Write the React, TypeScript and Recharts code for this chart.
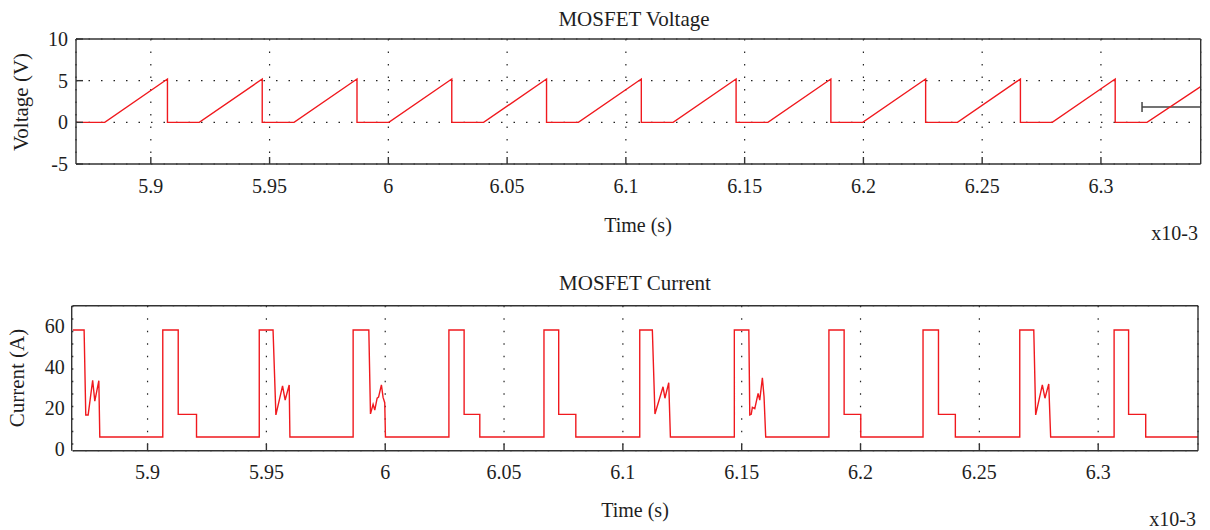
import React from 'react';
import { LineChart, Line, XAxis, YAxis, CartesianGrid, ReferenceLine } from 'recharts';

// ---- shared time axis (units of 1e-3 s) ----
const xDomain = [5.8685, 6.342];
const xTicks = [5.9, 5.95, 6, 6.05, 6.1, 6.15, 6.2, 6.25, 6.3];

// ---- MOSFET Voltage ----
const voltageTicks = [-5, 0, 5, 10];
const voltageTime = [
  5.8685, 5.8806,
  5.907, 5.907, 5.9204,
  5.9469, 5.9469, 5.9603,
  5.9868, 5.9868, 6.0002,
  6.0267, 6.0267, 6.0401,
  6.0666, 6.0666, 6.08,
  6.1065, 6.1065, 6.1199,
  6.1464, 6.1464, 6.1598,
  6.1863, 6.1863, 6.1997,
  6.2262, 6.2262, 6.2396,
  6.2661, 6.2661, 6.2795,
  6.306, 6.306, 6.3194,
  6.342,
];
const voltageValue = [
  0, 0,
  5.2, 0, 0,
  5.2, 0, 0,
  5.2, 0, 0,
  5.2, 0, 0,
  5.2, 0, 0,
  5.2, 0, 0,
  5.2, 0, 0,
  5.2, 0, 0,
  5.2, 0, 0,
  5.2, 0, 0,
  5.2, 0, 0,
  4.3,
];
// small bar marker drawn in the voltage plot
const markerTime = [6.3173, 6.342];
const markerLevel = 1.85;
const markerCap = [1.25, 2.45];

// ---- MOSFET Current ----
const currentLabelTicks = [0, 20, 40, 60];
const currentGridTicks = [5.7, 23.3, 40.6, 58.1];
const currentTime = [
  5.8685, 5.8733, 5.874, 5.875, 5.8769, 5.8778, 5.8795, 5.8799,
  5.9064, 5.9064, 5.9129, 5.9129, 5.9206, 5.9206,
  5.947, 5.947, 5.9528, 5.954, 5.9568, 5.9579, 5.9596, 5.9599,
  5.9865, 5.9865, 5.9931, 5.9938, 5.9949, 5.9956, 5.9966, 5.9972, 5.9984, 5.9991, 5.9998, 6.0001,
  6.0268, 6.0268, 6.0332, 6.0332, 6.0398, 6.0398,
  6.0668, 6.0668, 6.073, 6.073, 6.0802, 6.0802,
  6.1071, 6.1071, 6.1124, 6.1135, 6.1169, 6.1177, 6.1193, 6.12,
  6.1469, 6.1469, 6.153, 6.1534, 6.154, 6.1545, 6.1555, 6.1569, 6.1576, 6.1587, 6.1594, 6.1601,
  6.1867, 6.1867, 6.1931, 6.1931, 6.2001, 6.2001,
  6.2263, 6.2263, 6.2328, 6.2328, 6.2399, 6.2399,
  6.267, 6.267, 6.2729, 6.2737, 6.2765, 6.2776, 6.2792, 6.28,
  6.3067, 6.3067, 6.3128, 6.3128, 6.32, 6.32, 6.342,
];
const currentValue = [
  58.1, 58.1, 16.5, 16.5, 33.5, 23.3, 33.3, 5.7,
  5.7, 58.1, 58.1, 16.8, 16.8, 5.7,
  5.7, 58.1, 58.1, 16.5, 30.7, 23.8, 31.2, 5.7,
  5.7, 58.1, 58.1, 17, 21.7, 18.9, 24.7, 25.2, 31.2, 25.1, 22.5, 5.7,
  5.7, 58.1, 58.1, 16.8, 16.8, 5.7,
  5.7, 58.1, 58.1, 16.8, 16.8, 5.7,
  5.7, 58.1, 58.1, 17, 30.3, 24.7, 32.3, 5.7,
  5.7, 58.1, 58.1, 16.5, 16.8, 20.2, 19.6, 27.1, 23.8, 34.7, 25.4, 5.7,
  5.7, 58.1, 58.1, 16.8, 16.8, 5.7,
  5.7, 58.1, 58.1, 16.8, 16.8, 5.7,
  5.7, 58.1, 58.1, 16.5, 31.2, 24.7, 31.7, 5.7,
  5.7, 58.1, 58.1, 16.8, 16.8, 5.7, 5.7,
];

const voltageData = voltageTime.map((t, i) => ({ t, v: voltageValue[i] }));
const currentData = currentTime.map((t, i) => ({ t, v: currentValue[i] }));

const FONT = '"Liberation Serif", "Times New Roman", serif';
const TEXT = '#1e1e1e';
const FRAME = '#333';
const RED = '#f0191e';
const tickStyle = { fill: TEXT, fontSize: 20, fontFamily: FONT };

const txt = (
  label: string,
  x: number,
  y: number,
  size: number,
  align: 'center' | 'right' = 'center',
  rotate = false
) => (
  <div
    style={{
      position: 'absolute',
      left: x,
      top: y,
      fontFamily: FONT,
      fontSize: size,
      lineHeight: 1,
      color: TEXT,
      whiteSpace: 'nowrap',
      transform: `translate(${align === 'center' ? '-50%' : '-100%'}, -50%)${rotate ? ' rotate(-90deg)' : ''}`,
    }}
  >
    {label}
  </div>
);

const fmt = (v: number) => String(v);

export default function App() {
  return (
    <div style={{ position: 'absolute', left: 0, top: 0, width: 1210, height: 530, background: '#fff' }}>
      {/* Voltage chart */}
      <div style={{ position: 'absolute', left: 0, top: 0 }}>
        <LineChart
          width={1210}
          height={250}
          data={voltageData}
          margin={{ top: 38, right: 8.3, bottom: 56, left: 16 }}
        >
          <CartesianGrid
            xAxisId="b"
            yAxisId="l"
            stroke="#222"
            strokeWidth={1.2}
            strokeDasharray="1.5 11"
          />
          <XAxis
            xAxisId="b"
            dataKey="t"
            type="number"
            domain={xDomain}
            ticks={xTicks}
            allowDataOverflow
            height={30}
            tickSize={-7}
            tickMargin={21.5}
            tickFormatter={fmt}
            tick={tickStyle}
            axisLine={{ stroke: FRAME, strokeWidth: 1.4 }}
            tickLine={{ stroke: FRAME, strokeWidth: 1.4 }}
          />
          <XAxis
            xAxisId="t"
            dataKey="t"
            orientation="top"
            type="number"
            domain={xDomain}
            ticks={xTicks}
            allowDataOverflow
            height={1}
            tickSize={-7}
            tick={false}
            axisLine={{ stroke: FRAME, strokeWidth: 1.4 }}
            tickLine={{ stroke: FRAME, strokeWidth: 1.4 }}
          />
          <YAxis
            yAxisId="l"
            type="number"
            domain={[-5, 10]}
            ticks={voltageTicks}
            allowDataOverflow
            width={60}
            tickSize={-7}
            tickMargin={15}
            tick={tickStyle}
            axisLine={{ stroke: FRAME, strokeWidth: 1.4 }}
            tickLine={{ stroke: FRAME, strokeWidth: 1.4 }}
          />
          <YAxis
            yAxisId="r"
            orientation="right"
            type="number"
            domain={[-5, 10]}
            ticks={voltageTicks}
            allowDataOverflow
            width={1}
            tickSize={-7}
            tick={false}
            axisLine={{ stroke: FRAME, strokeWidth: 1.4 }}
            tickLine={{ stroke: FRAME, strokeWidth: 1.4 }}
          />
          <ReferenceLine
            xAxisId="b"
            yAxisId="l"
            ifOverflow="visible"
            segment={[
              { x: markerTime[0], y: markerLevel },
              { x: markerTime[1], y: markerLevel },
            ]}
            stroke="#444"
            strokeWidth={1.5}
          />
          <ReferenceLine
            xAxisId="b"
            yAxisId="l"
            ifOverflow="visible"
            segment={[
              { x: markerTime[0], y: markerCap[0] },
              { x: markerTime[0], y: markerCap[1] },
            ]}
            stroke="#444"
            strokeWidth={1.5}
          />
          <Line
            xAxisId="b"
            yAxisId="l"
            type="linear"
            dataKey="v"
            stroke={RED}
            strokeWidth={1.4}
            dot={false}
            activeDot={false}
            isAnimationActive={false}
          />
        </LineChart>
      </div>

      {/* Current chart */}
      <div style={{ position: 'absolute', left: 0, top: 260 }}>
        <LineChart
          width={1210}
          height={270}
          data={currentData}
          margin={{ top: 44.7, right: 11, bottom: 49.3, left: 11.7 }}
        >
          <CartesianGrid
            xAxisId="b"
            yAxisId="g"
            stroke="#222"
            strokeWidth={1.2}
            strokeDasharray="1.5 11"
          />
          <XAxis
            xAxisId="b"
            dataKey="t"
            type="number"
            domain={xDomain}
            ticks={xTicks}
            allowDataOverflow
            height={30}
            tickSize={-7}
            tickMargin={21.5}
            tickFormatter={fmt}
            tick={tickStyle}
            axisLine={{ stroke: FRAME, strokeWidth: 1.4 }}
            tickLine={{ stroke: FRAME, strokeWidth: 1.4 }}
          />
          <XAxis
            xAxisId="t"
            dataKey="t"
            orientation="top"
            type="number"
            domain={xDomain}
            ticks={xTicks}
            allowDataOverflow
            height={1}
            tickSize={-7}
            tick={false}
            axisLine={{ stroke: FRAME, strokeWidth: 1.4 }}
            tickLine={{ stroke: FRAME, strokeWidth: 1.4 }}
          />
          <YAxis
            yAxisId="l"
            type="number"
            domain={[-1, 70]}
            ticks={currentLabelTicks}
            allowDataOverflow
            width={60}
            tickSize={-7}
            tickMargin={14}
            tick={tickStyle}
            tickLine={false}
            axisLine={{ stroke: FRAME, strokeWidth: 1.4 }}
          />
          <YAxis
            yAxisId="g"
            type="number"
            domain={[-1, 70]}
            ticks={currentGridTicks}
            allowDataOverflow
            width={1}
            tickSize={-7}
            tick={false}
            axisLine={false}
            tickLine={{ stroke: FRAME, strokeWidth: 1.4 }}
          />
          <YAxis
            yAxisId="r"
            orientation="right"
            type="number"
            domain={[-1, 70]}
            ticks={currentGridTicks}
            allowDataOverflow
            width={1}
            tickSize={-7}
            tick={false}
            axisLine={{ stroke: FRAME, strokeWidth: 1.4 }}
            tickLine={{ stroke: FRAME, strokeWidth: 1.4 }}
          />
          <Line
            xAxisId="b"
            yAxisId="l"
            type="linear"
            dataKey="v"
            stroke={RED}
            strokeWidth={1.4}
            dot={false}
            activeDot={false}
            isAnimationActive={false}
          />
        </LineChart>
      </div>

      {txt('MOSFET Voltage', 634, 19, 21)}
      {txt('Time (s)', 638, 225, 20)}
      {txt('x10-3', 1198, 233, 20, 'right')}
      {txt('Voltage (V)', 21, 102, 21, 'center', true)}

      {txt('MOSFET Current', 635, 283, 21)}
      {txt('Time (s)', 635, 510, 20)}
      {txt('x10-3', 1196, 519, 20, 'right')}
      {txt('Current (A)', 17, 378, 21, 'center', true)}
    </div>
  );
}
